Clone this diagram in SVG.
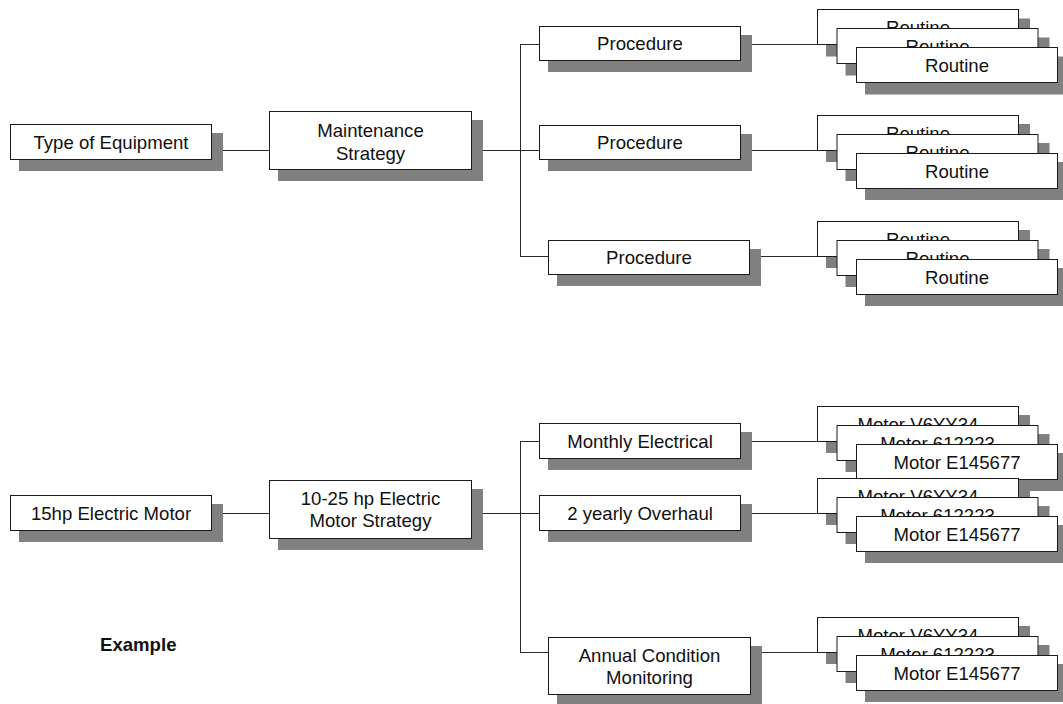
<svg xmlns="http://www.w3.org/2000/svg" width="1063" height="704" viewBox="0 0 1063 704">
<style>
.sh{fill:#808080;stroke:none}
.bx{fill:#ffffff;stroke:#1a1a1a;stroke-width:1}
.t{font-family:"Liberation Sans",Arial,sans-serif;font-size:18.6px;fill:#111;text-anchor:middle}
.ex{font-family:"Liberation Sans",Arial,sans-serif;font-size:18.6px;font-weight:bold;fill:#111}
.ln{stroke:#2a2a2a;stroke-width:1;fill:none}
</style>
<rect width="1063" height="704" fill="#ffffff"/>
<g id="connectors">
<path class="ln" d="M211 150.5H269M471 150.5H539M520.5 44.5V256.5M520 44.5H539M520 256.5H548M740 44.5H817M740 150.5H817M749 256.5H817"/>
<path class="ln" d="M211 513.5H269M471 513.5H539M520.5 441.5V652.5M520 441.5H539M520 652.5H548M740 441.5H817M740 513.5H817M750 652.5H817"/>
</g>
<g id="n-type-of-equipment"><rect class="sh" x="19" y="133" width="204" height="38"/><rect class="bx" x="10.5" y="124.5" width="201" height="35"/><text class="t" x="111" y="148.5">Type of Equipment</text></g>
<g id="n-maintenance-strategy"><rect class="sh" x="278" y="120" width="205" height="61"/><rect class="bx" x="269.5" y="111.5" width="202" height="58"/><text class="t" x="370.5" y="137">Maintenance</text><text class="t" x="370.5" y="159.5">Strategy</text></g>
<g id="n-procedure-1"><rect class="sh" x="548" y="35" width="204" height="37"/><rect class="bx" x="539.5" y="26.5" width="201" height="34"/><text class="t" x="640" y="50">Procedure</text></g>
<g id="n-procedure-2"><rect class="sh" x="548" y="134" width="204" height="37"/><rect class="bx" x="539.5" y="125.5" width="201" height="34"/><text class="t" x="640" y="149">Procedure</text></g>
<g id="n-procedure-3"><rect class="sh" x="557" y="249" width="204" height="37"/><rect class="bx" x="548.5" y="240.5" width="201" height="34"/><text class="t" x="649" y="264">Procedure</text></g>
<g id="n-routines-1">
<rect class="sh" x="826" y="18.5" width="204" height="38"/><rect class="bx" x="817.5" y="9.5" width="201" height="35"/><text class="t" x="918" y="34">Routine</text>
<rect class="sh" x="845.5" y="37.5" width="204" height="38"/><rect class="bx" x="837" y="28.5" width="201" height="35"/><text class="t" x="937.5" y="53">Routine</text>
<rect class="sh" x="865" y="56.5" width="204" height="38"/><rect class="bx" x="856.5" y="47.5" width="201" height="35"/><text class="t" x="957" y="72">Routine</text>
</g>
<g id="n-routines-2">
<rect class="sh" x="826" y="124" width="204" height="38"/><rect class="bx" x="817.5" y="115.5" width="201" height="35"/><text class="t" x="918" y="140">Routine</text>
<rect class="sh" x="845.5" y="143" width="204" height="38"/><rect class="bx" x="837" y="134.5" width="201" height="35"/><text class="t" x="937.5" y="159">Routine</text>
<rect class="sh" x="865" y="162" width="204" height="38"/><rect class="bx" x="856.5" y="153.5" width="201" height="35"/><text class="t" x="957" y="178">Routine</text>
</g>
<g id="n-routines-3">
<rect class="sh" x="826" y="230" width="204" height="38"/><rect class="bx" x="817.5" y="221.5" width="201" height="35"/><text class="t" x="918" y="246">Routine</text>
<rect class="sh" x="845.5" y="249" width="204" height="38"/><rect class="bx" x="837" y="240.5" width="201" height="35"/><text class="t" x="937.5" y="265">Routine</text>
<rect class="sh" x="865" y="268" width="204" height="38"/><rect class="bx" x="856.5" y="259.5" width="201" height="35"/><text class="t" x="957" y="284">Routine</text>
</g>
<g id="n-15hp-electric-motor"><rect class="sh" x="19" y="504" width="204" height="38"/><rect class="bx" x="10.5" y="495.5" width="201" height="35"/><text class="t" x="111" y="519.5">15hp Electric Motor</text></g>
<g id="n-motor-strategy"><rect class="sh" x="278" y="489" width="205" height="61"/><rect class="bx" x="269.5" y="480.5" width="202" height="58"/><text class="t" x="370.5" y="504.5">10-25 hp Electric</text><text class="t" x="370.5" y="527">Motor Strategy</text></g>
<g id="n-monthly-electrical"><rect class="sh" x="548" y="432" width="204" height="38"/><rect class="bx" x="539.5" y="423.5" width="201" height="35"/><text class="t" x="640" y="447.5">Monthly Electrical</text></g>
<g id="n-2-yearly-overhaul"><rect class="sh" x="548" y="504" width="204" height="38"/><rect class="bx" x="539.5" y="495.5" width="201" height="35"/><text class="t" x="640" y="519.5">2 yearly Overhaul</text></g>
<g id="n-annual-condition-monitoring"><rect class="sh" x="557" y="646" width="205" height="61"/><rect class="bx" x="548.5" y="637.5" width="202" height="57"/><text class="t" x="649.5" y="661.5">Annual Condition</text><text class="t" x="649.5" y="683.5">Monitoring</text></g>
<g id="n-motors-1">
<rect class="sh" x="826" y="415" width="204" height="38"/><rect class="bx" x="817.5" y="406.5" width="201" height="35"/><text class="t" x="918" y="431">Motor V6YY34</text>
<rect class="sh" x="845.5" y="434" width="204" height="38"/><rect class="bx" x="837" y="425.5" width="201" height="35"/><text class="t" x="937.5" y="450">Motor 612223</text>
<rect class="sh" x="865" y="453" width="204" height="38"/><rect class="bx" x="856.5" y="444.5" width="201" height="35"/><text class="t" x="957" y="469">Motor E145677</text>
</g>
<g id="n-motors-2">
<rect class="sh" x="826" y="487" width="204" height="38"/><rect class="bx" x="817.5" y="478.5" width="201" height="35"/><text class="t" x="918" y="503">Motor V6YY34</text>
<rect class="sh" x="845.5" y="506" width="204" height="38"/><rect class="bx" x="837" y="497.5" width="201" height="35"/><text class="t" x="937.5" y="522">Motor 612223</text>
<rect class="sh" x="865" y="525" width="204" height="38"/><rect class="bx" x="856.5" y="516.5" width="201" height="35"/><text class="t" x="957" y="541">Motor E145677</text>
</g>
<g id="n-motors-3">
<rect class="sh" x="826" y="626" width="204" height="38"/><rect class="bx" x="817.5" y="617.5" width="201" height="35"/><text class="t" x="918" y="642">Motor V6YY34</text>
<rect class="sh" x="845.5" y="645" width="204" height="38"/><rect class="bx" x="837" y="636.5" width="201" height="35"/><text class="t" x="937.5" y="661">Motor 612223</text>
<rect class="sh" x="865" y="664" width="204" height="38"/><rect class="bx" x="856.5" y="655.5" width="201" height="35"/><text class="t" x="957" y="680">Motor E145677</text>
</g>
<text class="ex" x="100" y="651">Example</text>
</svg>
